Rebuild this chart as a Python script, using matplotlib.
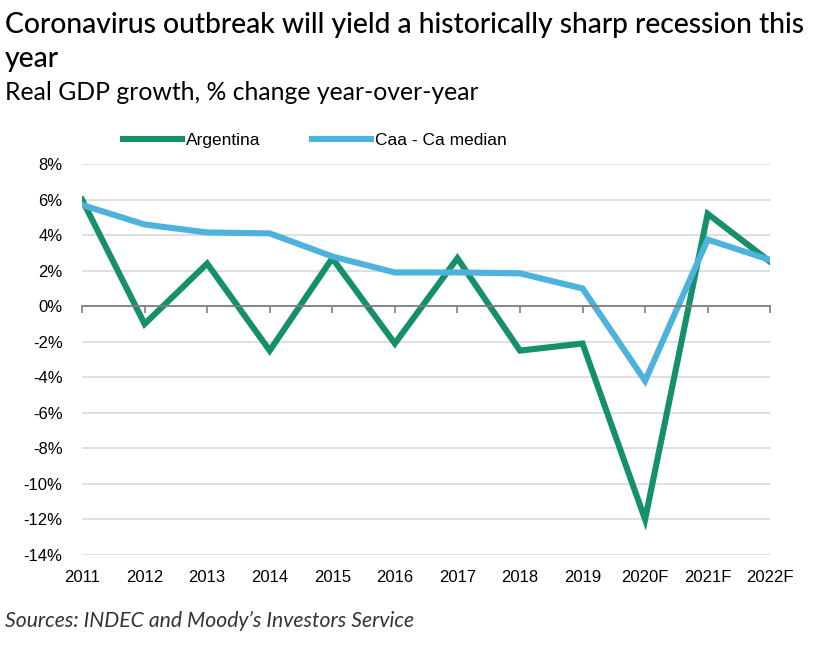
import numpy as np
from matplotlib import pyplot as plt
from matplotlib.ticker import FuncFormatter

years = ['2011', '2012', '2013', '2014', '2015', '2016', '2017', '2018',
         '2019', '2020F', '2021F', '2022F']
argentina = [6.0, -1.0, 2.4, -2.5, 2.7, -2.1, 2.7, -2.5, -2.1, -12.0, 5.2, 2.5]
caa_median = [5.7, 4.6, 4.15, 4.1, 2.8, 1.9, 1.9, 1.85, 1.0, -4.2, 3.75, 2.6]
yticks = list(range(-14, 9, 2))

green = '#168f6b'
blue = '#4db3dd'

fig = plt.figure(figsize=(8.22, 6.46), dpi=100)
ax = fig.add_axes([0.0998, 0.141, 0.8372, 0.605])

x = np.arange(len(years))
ax.plot(x, argentina, color=green, lw=4.4, solid_joinstyle='miter', label='Argentina')
ax.plot(x, caa_median, color=blue, lw=4.4, solid_joinstyle='miter', label='Caa - Ca median')

ax.set_xlim(0, len(years) - 1)
ax.set_ylim(-14, 8)
ax.set_yticks(yticks)
ax.yaxis.set_major_formatter(FuncFormatter(lambda v, p: '%d%%' % v))
ax.grid(axis='y', color='#d9d9d9', lw=1.2)
ax.set_axisbelow(True)
for s in ['top', 'right', 'left']:
    ax.spines[s].set_visible(False)
ax.tick_params(axis='y', length=0, pad=14, labelsize=12)

# zero line with tick marks, labels at the bottom
ax.spines['bottom'].set_position(('data', 0))
ax.spines['bottom'].set_color('#7f7f7f')
ax.spines['bottom'].set_linewidth(1.3)
ax.set_xticks(x)
ax.tick_params(axis='x', length=5, width=1.2, color='#7f7f7f', labelbottom=False)
sec = ax.secondary_xaxis('bottom')
sec.set_xticks(x, labels=years)
sec.tick_params(length=0, pad=11, labelsize=12)
sec.spines['bottom'].set_visible(False)

for lab in ax.get_yticklabels() + sec.get_xticklabels():
    lab.set_family('Liberation Sans')

ax.legend(loc='lower left', bbox_to_anchor=(0.037, 1.0), ncol=2, frameon=False,
          handlelength=3.4, handletextpad=0.2, columnspacing=3.0,
          prop={'family': 'Liberation Sans', 'size': 12.5})

fig.text(0.006, 0.949, 'Coronavirus outbreak will yield a historically sharp recession this',
         fontsize=20.3, family='Lato', weight='medium', ha='left', va='baseline')
fig.text(0.006, 0.896, 'year', fontsize=20.3, family='Lato', weight='medium',
         ha='left', va='baseline')
fig.text(0.006, 0.845, 'Real GDP growth, % change year-over-year',
         fontsize=17.8, family='Lato', ha='left', va='baseline')
fig.text(0.006, 0.029, "Sources: INDEC and Moody\u2019s Investors Service",
         fontsize=15.2, family='Lato', style='italic', ha='left', va='baseline', color='#333333')

plt.savefig('out.png', dpi=100)
